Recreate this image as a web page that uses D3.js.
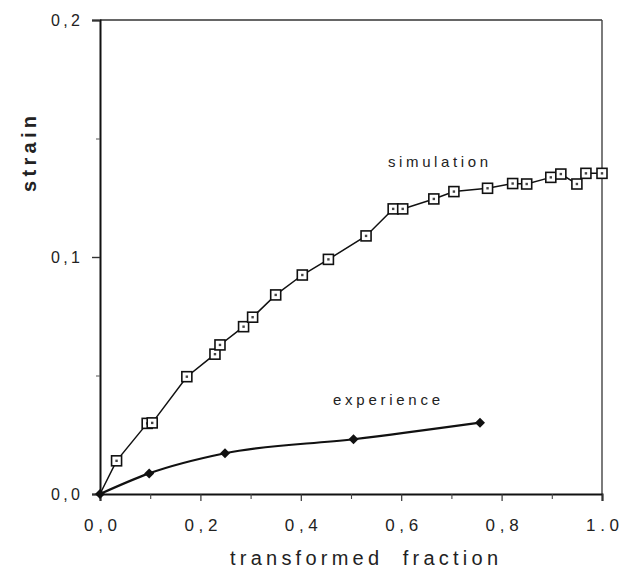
<!DOCTYPE html>
<html>
<head>
<meta charset="utf-8">
<script src="https://cdn.jsdelivr.net/npm/d3@7"></script>
<style>
  html, body { margin: 0; padding: 0; background: #fff; }
  svg { display: block; }
  text { font-family: "Liberation Sans", Arial, sans-serif; fill: #222; }
</style>
</head>
<body>
<svg id="chart" width="620" height="570"></svg>
<script>
// ---- data ----
const simX = [0, 0.033, 0.094, 0.104, 0.173, 0.229, 0.239, 0.286, 0.304, 0.350, 0.403, 0.455,
              0.530, 0.584, 0.603, 0.665, 0.705, 0.772, 0.822, 0.850, 0.898, 0.918, 0.950, 0.968, 1.0];
const simY = [0, 0.0140, 0.0298, 0.0300, 0.0495, 0.0590, 0.0629, 0.0706, 0.0746, 0.0840, 0.0924, 0.0990,
              0.1089, 0.1203, 0.1203, 0.1245, 0.1276, 0.1290, 0.1310, 0.1308, 0.1336, 0.1350, 0.1308, 0.1353, 0.1353];
const expX = [0, 0.098, 0.249, 0.505, 0.757];
const expY = [0, 0.0087, 0.0172, 0.0231, 0.0301];
const xTicks = [0, 0.2, 0.4, 0.6, 0.8, 1.0];
const xTickLabels = ["0,0", "0,2", "0,4", "0,6", "0,8", "1.0"];
const yTicks = [0, 0.1, 0.2];
const yTickLabels = ["0,0", "0,1", "0,2"];
const xTitle = "transformed  fraction";
const yTitle = "strain";
const seriesLabels = ["simulation", "experience"];

// ---- chart ----
const svg = d3.select("#chart");
const x = d3.scaleLinear().domain([0, 1]).range([100, 602]);
const y = d3.scaleLinear().domain([0, 0.2]).range([494, 20]);

const g = svg.append("g");

// frame
g.append("line").attr("x1", x(0)).attr("x2", x(1)).attr("y1", y(0.2)).attr("y2", y(0.2))
  .attr("stroke", "#333").attr("stroke-width", 1.6);
g.append("line").attr("x1", x(1)).attr("x2", x(1)).attr("y1", y(0.2)).attr("y2", y(0))
  .attr("stroke", "#444").attr("stroke-width", 1.4);

// x axis
const xAxis = d3.axisBottom(x).tickValues(xTicks).tickSize(7).tickFormat((d, i) => xTickLabels[i]);
const gx = g.append("g").attr("transform", `translate(0,${y(0)})`).call(xAxis);
gx.select(".domain").attr("stroke", "#111").attr("stroke-width", 2);
gx.selectAll(".tick line").attr("stroke", "#333").attr("stroke-width", 1.2);
gx.selectAll(".tick text").attr("font-size", 17).attr("dy", 0).attr("y", 37)
  .attr("text-anchor", "middle").attr("textLength", 33).attr("lengthAdjust", "spacing")
  .attr("fill", "#333");
// minor x ticks
const xMinor = d3.axisBottom(x).tickValues(d3.range(0.1, 1, 0.2)).tickSize(5).tickFormat("");
const gxm = g.append("g").attr("transform", `translate(0,${y(0)})`).call(xMinor);
gxm.select(".domain").remove();
gxm.selectAll(".tick line").attr("stroke", "#444").attr("stroke-width", 1.1);

// y axis
const yAxis = d3.axisLeft(y).tickValues(yTicks).tickSize(8).tickFormat((d, i) => yTickLabels[i]);
const gy = g.append("g").attr("transform", `translate(${x(0)},0)`).call(yAxis);
gy.select(".domain").attr("stroke", "#111").attr("stroke-width", 2);
gy.selectAll(".tick line").attr("stroke", "#333").attr("stroke-width", 1.4);
gy.selectAll(".tick text").attr("font-size", 16).attr("x", -20)
  .attr("textLength", 29).attr("lengthAdjust", "spacing").attr("fill", "#333");
const yMinor = d3.axisLeft(y).tickValues([0.05, 0.15]).tickSize(4).tickFormat("");
const gym = g.append("g").attr("transform", `translate(${x(0)},0)`).call(yMinor);
gym.select(".domain").remove();
gym.selectAll(".tick line").attr("stroke", "#555").attr("stroke-width", 1);

// titles
g.append("text").attr("x", 364).attr("y", 565).attr("text-anchor", "middle")
  .attr("font-size", 20).attr("fill", "#333")
  .attr("textLength", 268).attr("lengthAdjust", "spacing")
  .style("white-space", "pre").text(xTitle);
g.append("text").attr("transform", "translate(36,154) rotate(-90)").attr("text-anchor", "middle")
  .attr("font-size", 20).attr("font-weight", "bold").attr("fill", "#222")
  .attr("textLength", 76).attr("lengthAdjust", "spacing").text(yTitle);

// simulation series
const sim = simX.map((d, i) => ({ x: d, y: simY[i] }));
const line = d3.line().x(d => x(d.x)).y(d => y(d.y));
g.append("path").datum(sim).attr("d", line).attr("fill", "none")
  .attr("stroke", "#111").attr("stroke-width", 1.5);
const sq = 10;
const simPts = g.append("g").selectAll("g").data(sim.filter(d => d.x > 0)).join("g")
  .attr("transform", d => `translate(${x(d.x)},${y(d.y)})`);
simPts.append("rect").attr("x", -sq / 2).attr("y", -sq / 2).attr("width", sq).attr("height", sq)
  .attr("fill", "#fff").attr("stroke", "#111").attr("stroke-width", 1.6);
simPts.append("rect").attr("x", -1.2).attr("y", -1.2).attr("width", 2.4).attr("height", 2.4)
  .attr("fill", "#444");

// experience series
const exp = expX.map((d, i) => ({ x: d, y: expY[i] }));
g.append("path").datum(exp).attr("d", d3.line().x(d => x(d.x)).y(d => y(d.y)).curve(d3.curveMonotoneX))
  .attr("fill", "none").attr("stroke", "#111").attr("stroke-width", 2.2);
g.append("g").selectAll("path").data(exp).join("path")
  .attr("d", d3.symbol().type(d3.symbolSquare).size(50))
  .attr("transform", d => `translate(${x(d.x)},${y(d.y)}) rotate(45)`)
  .attr("fill", "#111");

// series labels
g.append("text").attr("x", 388).attr("y", 167).attr("font-size", 15).attr("fill", "#333")
  .attr("textLength", 100).attr("lengthAdjust", "spacing").text(seriesLabels[0]);
g.append("text").attr("x", 333).attr("y", 405).attr("font-size", 15).attr("fill", "#333")
  .attr("textLength", 107).attr("lengthAdjust", "spacing").text(seriesLabels[1]);
</script>
</body>
</html>
